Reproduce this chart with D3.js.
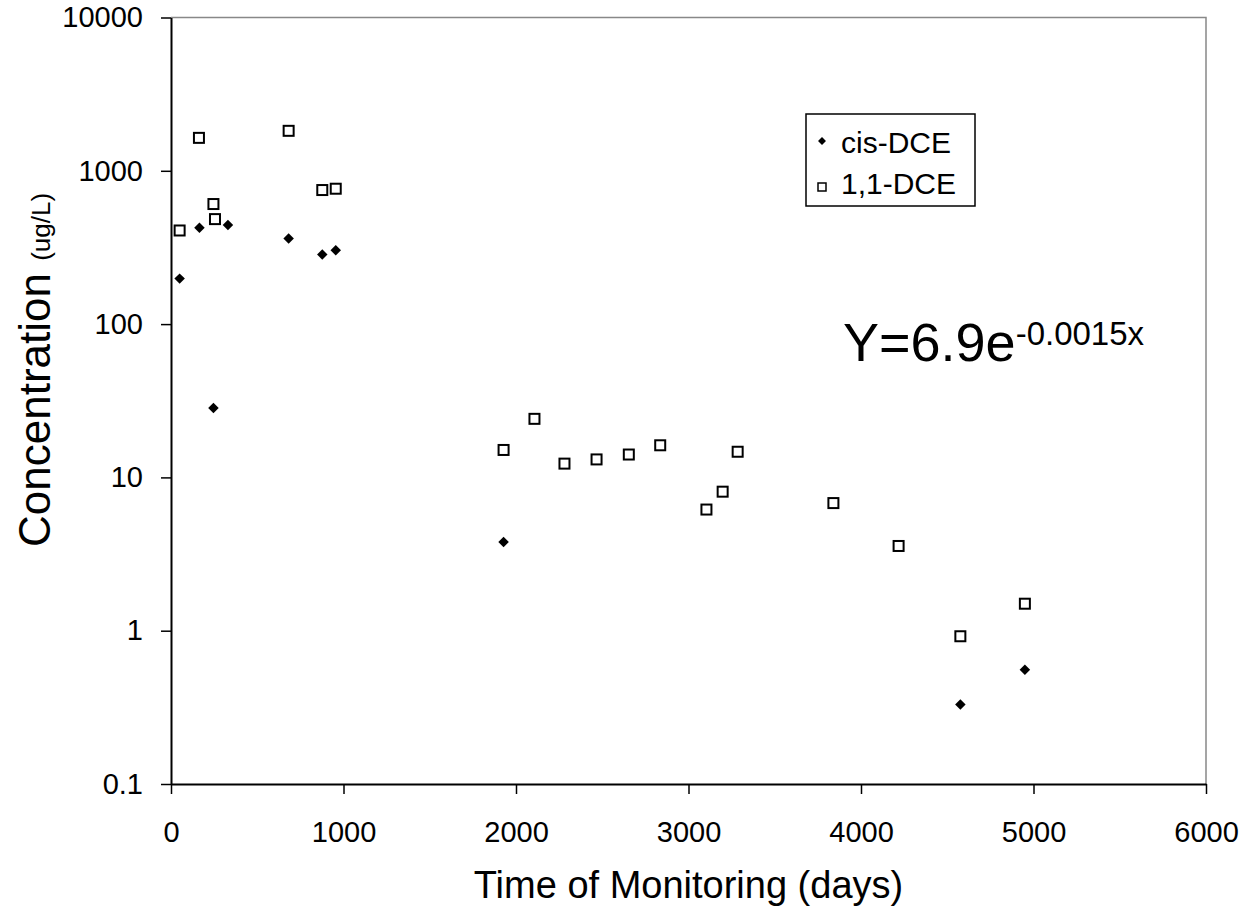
<!DOCTYPE html>
<html lang="en">
<head>
  <meta charset="UTF-8">
  <title>cis-DCE and 1,1-DCE concentration over time</title>
  <script src="https://d3js.org/d3.v7.min.js"></script>
  <style>
    body { margin: 0; background: #fff; }
    svg { display: block; font-family: "Liberation Sans", Arial, sans-serif; }
  </style>
</head>
<body>
<svg id="chart" width="1245" height="917"></svg>
<script>
  // days since start of monitoring / concentration (ug/L)
  const cisDays = [50, 165, 246, 330, 682, 877, 955, 1928, 4576, 4950];
  const cisConc = [198, 425, 28.4, 443, 362, 284, 303, 3.79, 0.33, 0.557];

  const dceDays = [50, 162, 246, 255, 682, 877, 955, 1928, 2107, 2281, 2467, 2654, 2836, 3104, 3198, 3285, 3840, 4218, 4576, 4950];
  const dceConc = [408, 1640, 607, 484, 1823, 749, 764, 15.1, 24.1, 12.3, 13.1, 14.1, 16.2, 6.17, 8.07, 14.7, 6.8, 3.57, 0.92, 1.50];

  const xTicks = [0, 1000, 2000, 3000, 4000, 5000, 6000];
  const yTicks = [0.1, 1, 10, 100, 1000, 10000];

  (() => {
    const svg = d3.select("#chart");
    const pl = 171, pr = 1206, pt = 17.5, pb = 784;

    const x = d3.scaleLinear().domain([0, 6000]).range([pl, pr]);
    const y = d3.scaleLog().domain([0.1, 10000]).range([pb, pt]);

    // plot area frame (grey top / right)
    svg.append("path")
        .attr("d", `M${pl},${pt}H${pr}V${pb}`)
        .attr("fill", "none")
        .attr("stroke", "#888")
        .attr("stroke-width", 1.5);

    // X axis
    const xAxis = svg.append("g")
        .attr("transform", `translate(0,${pb})`)
        .call(d3.axisBottom(x).tickValues(xTicks).tickFormat(d3.format("d"))
          .tickSize(10).tickSizeOuter(0).tickPadding(27));

    // Y axis
    const yAxis = svg.append("g")
        .attr("transform", `translate(${pl},0)`)
        .call(d3.axisLeft(y).tickValues(yTicks).tickFormat(d => String(d))
          .tickSize(10).tickSizeOuter(0).tickPadding(18));

    [xAxis, yAxis].forEach(a => {
      a.select(".domain").attr("stroke", "#000").attr("stroke-width", 2);
      a.selectAll(".tick line").attr("stroke", "#000").attr("stroke-width", 1.5);
      a.selectAll(".tick text").attr("font-size", "29px").attr("fill", "#000")
          .attr("font-family", "Liberation Sans, Arial, sans-serif");
    });

    // cis-DCE diamonds
    const diamond = d3.symbol().type(d3.symbolDiamond2).size(70);
    svg.append("g").selectAll("path")
        .data(cisDays.map((d, i) => ({ day: d, conc: cisConc[i] })))
        .enter().append("path")
        .attr("d", diamond)
        .attr("transform", d => `translate(${x(d.day)},${y(d.conc)})`)
        .attr("fill", "#000");

    // 1,1-DCE open squares
    const s = 10;
    svg.append("g").selectAll("rect")
        .data(dceDays.map((d, i) => ({ day: d, conc: dceConc[i] })))
        .enter().append("rect")
        .attr("x", d => x(d.day) - s / 2)
        .attr("y", d => y(d.conc) - s / 2)
        .attr("width", s)
        .attr("height", s)
        .attr("fill", "#fff")
        .attr("stroke", "#000")
        .attr("stroke-width", 2);

    // legend
    const lg = svg.append("g");
    lg.append("rect")
        .attr("x", 806).attr("y", 114).attr("width", 169).attr("height", 92)
        .attr("fill", "#fff").attr("stroke", "#000").attr("stroke-width", 1.5);
    lg.append("path")
        .attr("d", d3.symbol().type(d3.symbolDiamond2).size(40))
        .attr("transform", "translate(822,141)");
    lg.append("rect")
        .attr("x", 818).attr("y", 183).attr("width", 8).attr("height", 8)
        .attr("fill", "#fff").attr("stroke", "#000").attr("stroke-width", 1.5);
    lg.append("text").attr("x", 841).attr("y", 153).attr("font-size", "30px").text("cis-DCE");
    lg.append("text").attr("x", 841).attr("y", 194).attr("font-size", "30px").text("1,1-DCE");

    // fitted equation
    const eq = svg.append("text").attr("x", 843).attr("y", 361).attr("font-size", "54px");
    eq.append("tspan").text("Y=6.9e");
    eq.append("tspan").attr("font-size", "33px").attr("dy", -16).text("-0.0015x");

    // axis titles
    svg.append("text")
        .attr("x", (pl + pr) / 2)
        .attr("y", 898)
        .attr("text-anchor", "middle")
        .attr("font-size", "38px")
        .text("Time of Monitoring (days)");

    const yt = svg.append("text")
        .attr("transform", "translate(50,547) rotate(-90)")
        .attr("font-size", "44px");
    yt.append("tspan").text("Concentration ");
    yt.append("tspan").attr("font-size", "26px").text("(ug/L)");
  })();
</script>
</body>
</html>
